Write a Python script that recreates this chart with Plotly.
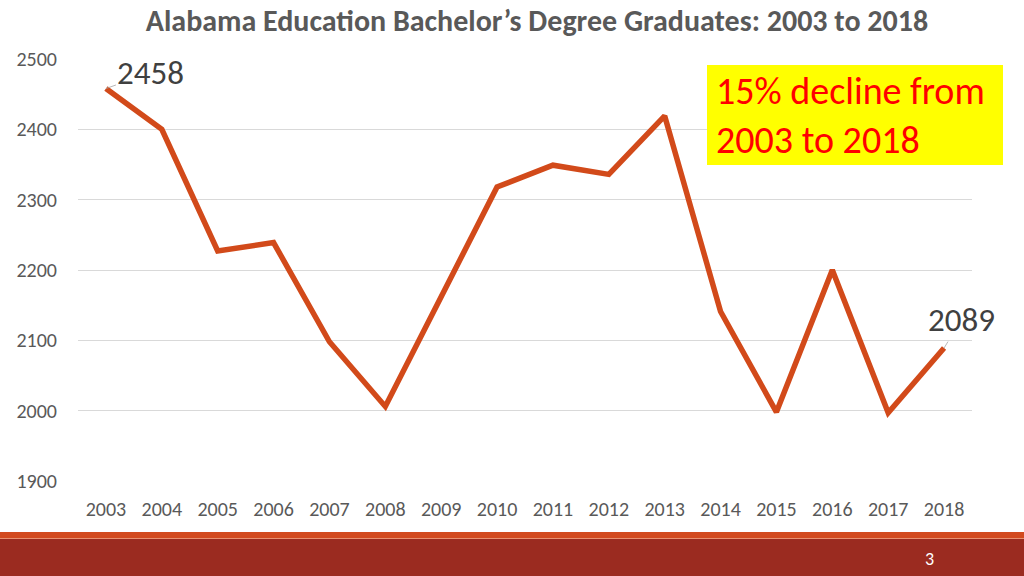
import plotly.graph_objects as go

years = ["2003", "2004", "2005", "2006", "2007", "2008", "2009", "2010",
         "2011", "2012", "2013", "2014", "2015", "2016", "2017", "2018"]
graduates = [2458, 2400, 2227, 2239, 2098, 2006, 2162, 2318,
             2349, 2336, 2419, 2141, 1998, 2200, 1997, 2089]
y_ticks = [1900, 2000, 2100, 2200, 2300, 2400, 2500]

W, H = 1024, 576
L, R, T, B = 78, 52, 59, 95
pw, ph = W - L - R, H - T - B

def px_x(p):
    return (p - L) / pw

def px_y(p):
    return (H - B - p) / ph

FONT = "Carlito, Lato, sans-serif"

fig = go.Figure()
fig.add_trace(go.Scatter(
    x=years, y=graduates, mode="lines",
    line=dict(color="#D24A1A", width=5.5),
    hoverinfo="x+y", showlegend=False,
))

shapes = [
    dict(type="rect", xref="paper", yref="paper", layer="below",
         x0=px_x(0), x1=px_x(W), y0=px_y(538), y1=px_y(532),
         fillcolor="#D24A1F", line=dict(width=0)),
    dict(type="rect", xref="paper", yref="paper", layer="below",
         x0=px_x(0), x1=px_x(W), y0=px_y(539), y1=px_y(538),
         fillcolor="#E89070", line=dict(width=0)),
    dict(type="rect", xref="paper", yref="paper", layer="below",
         x0=px_x(0), x1=px_x(W), y0=px_y(W), y1=px_y(539),
         fillcolor="#9B2B20", line=dict(width=0)),
    dict(type="rect", xref="paper", yref="paper", layer="above",
         x0=px_x(707), x1=px_x(1003), y0=px_y(165), y1=px_y(65),
         fillcolor="#FFFF00", line=dict(width=0)),
]

annotations = [
    dict(x=0, y=graduates[0], xref="x", yref="y",
         text=str(graduates[0]), showarrow=True, ax=45, ay=-16,
         arrowhead=0, arrowwidth=0.8, arrowcolor="#A6A6A6",
         font=dict(family=FONT, size=33, color="#404040")),
    dict(x=len(years) - 1, y=graduates[-1], xref="x", yref="y",
         text=str(graduates[-1]), showarrow=True, ax=17, ay=-28,
         arrowhead=0, arrowwidth=0.8, arrowcolor="#A6A6A6",
         font=dict(family=FONT, size=33, color="#404040")),
    dict(x=px_x(714), y=px_y(115), xref="paper", yref="paper",
         xanchor="left", yanchor="middle", showarrow=False,
         text="15% decline from<br>2003 to 2018", align="left",
         font=dict(family=FONT, size=38, color="#FF0000")),
    dict(x=px_x(929), y=px_y(559), xref="paper", yref="paper",
         xanchor="center", yanchor="middle",
         showarrow=False, text="3",
         font=dict(family=FONT, size=18, color="#FFFFFF")),
]

fig.update_layout(
    width=W, height=H,
    margin=dict(l=L, r=R, t=T, b=B, autoexpand=False),
    paper_bgcolor="white", plot_bgcolor="white",
    title=dict(text="<b>Alabama Education Bachelor’s Degree Graduates: 2003 to 2018</b>",
               x=537 / W, xanchor="center", y=1 - 20 / H, yanchor="middle",
               font=dict(family=FONT, size=30, color="#595959")),
    xaxis=dict(type="category", range=[-0.5, 15.5], showgrid=False,
               showline=False, ticks="", zeroline=False, ticklabelstandoff=14,
               tickfont=dict(family=FONT, size=20, color="#595959")),
    yaxis=dict(range=[1900, 2500], tickvals=y_ticks, showgrid=True,
               gridcolor="#D9D9D9", gridwidth=1, zeroline=False,
               showline=False, ticks="", ticklabelstandoff=20,
               tickfont=dict(family=FONT, size=20, color="#595959")),
    shapes=shapes, annotations=annotations,
)

fig.write_html("out.html", config={"displayModeBar": False},
               post_script="document.body.style.margin='0';document.body.style.padding='0';")
